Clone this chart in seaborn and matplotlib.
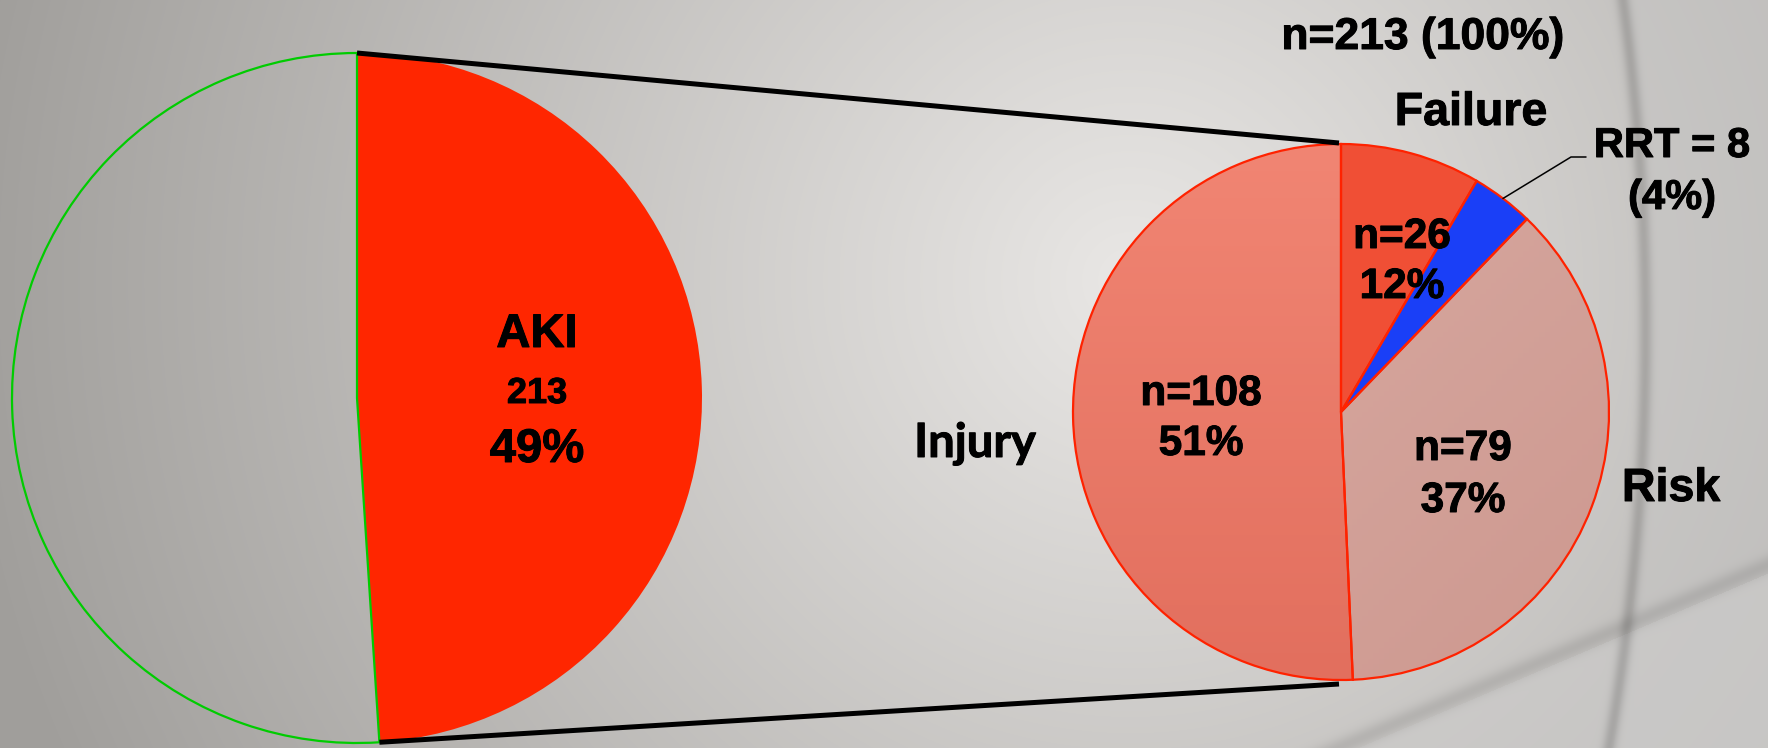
import numpy as np
import matplotlib
matplotlib.use("Agg")
import matplotlib.pyplot as plt
import matplotlib.patheffects as pe_
import seaborn as sns

# ---------------- data ----------------
overall_labels = ["AKI", "No AKI"]
overall_counts = [213, 222]

rifle_labels = ["Failure", "RRT", "Risk", "Injury"]
rifle_counts = [18, 8, 79, 108]          # Failure without RRT, RRT, Risk, Injury
failure_total = 26                       # Failure incl. RRT
aki_total = 213

rifle_colors = ["#F04F35", "#1A3FF7", "#D5A59C", "#EC7F6C"]

# ---------------- style ----------------
sns.set_theme(style="white")
plt.rcParams["font.family"] = ["Liberation Sans", "DejaVu Sans"]
plt.rcParams["font.weight"] = "bold"

W, H = 1768, 748
fig = plt.figure(figsize=(W / 100, H / 100), dpi=100)
ax = fig.add_axes([0, 0, 1, 1])


def P(x, y):
    """pixel (top-left origin) -> data coords"""
    return (x, H - y)


# ---------------- background ----------------
yy, xx = np.mgrid[0:H, 0:W].astype(float)
d = np.hypot(xx - 1130, (yy - 280))
t = np.clip(d / 1180, 0, 1)[..., None]
light = np.array([233, 231, 229]) / 255
dark = np.array([160, 158, 155]) / 255
img = light * (1 - t) + dark * t

arc_c = (-780.0, 329.0)
arc_r = 2429.0
arc_d = np.hypot(xx - arc_c[0], yy - arc_c[1]) - arc_r
right_arc = arc_d > 0
img[right_arc] = img[right_arc] * 0.5 + np.array([198, 197, 196]) / 255 * 0.5

# diagonal edge bottom-right
x0, y0, x1, y1 = 1357.0, 748.0, 1768.0, 573.0
nx, ny = -(y1 - y0), (x1 - x0)
nrm = np.hypot(nx, ny)
sd = ((xx - x0) * nx + (yy - y0) * ny) / nrm   # >0 below line
below = sd > 0
img[below] = img[below] * 0.4 + np.array([205, 204, 203]) / 255 * 0.6

shade = 1 - 0.16 * np.exp(-((arc_d + 4) / 7.0) ** 2)
shade *= 1 - 0.10 * np.exp(-((sd + 8) / 9.0) ** 2)
img = img * shade[..., None]
ax.imshow(img, extent=(0, W, 0, H), origin="upper", zorder=0, aspect="auto",
          interpolation="bilinear")

# ---------------- left pie ----------------
c1 = P(357, 398)
r1 = 345
w1, _ = ax.pie(overall_counts, colors=["#FF2600", "#FFFFFF"], startangle=90,
               counterclock=False, center=c1, radius=r1, frame=True,
               wedgeprops=dict(linewidth=0, zorder=2))
w1[1].set_facecolor("none")
w1[1].set_edgecolor("#00CC00")
w1[1].set_linewidth(1.6)
w1[1].set_zorder(3)

# ---------------- right pie ----------------
c2 = P(1341, 412)
r2 = 268
w2, _ = ax.pie(rifle_counts, colors=rifle_colors, startangle=90,
               counterclock=False, center=c2, radius=r2, frame=True,
               wedgeprops=dict(linewidth=0, zorder=2))

# subtle gradients on Risk and Injury
gy, gx = np.mgrid[0:100, 0:100] / 99.0
for idx, (ca, cb, mode) in {2: ((218, 173, 165), (205, 152, 143), "diag"),
                            3: ((241, 133, 115), (226, 111, 94), "vert")}.items():
    tt = (gx + gy) / 2 if mode == "diag" else gy
    ca = np.array(ca) / 255
    cb = np.array(cb) / 255
    g = ca * (1 - tt[..., None]) + cb * tt[..., None]
    im = ax.imshow(g, extent=(c2[0] - r2, c2[0] + r2, c2[1] - r2, c2[1] + r2),
                   origin="upper", zorder=2.5, aspect="auto")
    im.set_clip_path(w2[idx])

ax.pie(rifle_counts, colors=["none"] * 4, startangle=90, counterclock=False,
       center=c2, radius=r2, frame=True,
       wedgeprops=dict(linewidth=1.6, edgecolor="#FF2200", fill=False, zorder=3))

# ---------------- connector lines ----------------
aki = w1[0]
th_a = np.deg2rad(aki.theta1)
th_b = np.deg2rad(aki.theta2)
pa = (c1[0] + r1 * np.cos(th_b), c1[1] + r1 * np.sin(th_b))
pb = (c1[0] + r1 * np.cos(th_a), c1[1] + r1 * np.sin(th_a))
top_pt, bot_pt = (pa, pb) if pa[1] > pb[1] else (pb, pa)
ax.plot([top_pt[0], c2[0] - 2], [top_pt[1], c2[1] + r2 + 1], color="black",
        lw=3.6, solid_capstyle="butt", zorder=4)
ax.plot([bot_pt[0], c2[0] - 2], [bot_pt[1], c2[1] - r2 - 4], color="black",
        lw=3.6, solid_capstyle="butt", zorder=4)

# RRT leader line
rrt = w2[1]
mid = np.deg2rad((rrt.theta1 + rrt.theta2) / 2)
pe = (c2[0] + r2 * np.cos(mid), c2[1] + r2 * np.sin(mid))
ax.plot([pe[0], 1571, 1586], [pe[1], H - 157, H - 157], color="black",
        lw=1.1, zorder=4)

# ---------------- texts ----------------
thick = [pe_.withStroke(linewidth=0.7, foreground="black")]


def txt(x, y, s, size, **kw):
    ax.text(*P(x, y), s, ha="center", va="baseline", fontsize=size,
            fontweight="bold", color="black", zorder=5, path_effects=thick, **kw)


grand = sum(overall_counts)
txt(537, 347, overall_labels[0], 34)
txt(537, 403, f"{aki_total}", 26)
txt(537, 462, f"{round(100 * aki_total / grand)}%", 34)

txt(1423, 49, f"n={aki_total} (100%)", 32)
txt(1471, 125, rifle_labels[0], 33.5)
txt(1672, 157, f"RRT = {rifle_counts[1]}", 30)
txt(1672, 209, f"({round(100 * rifle_counts[1] / aki_total)}%)", 30)
txt(1402, 248, f"n={failure_total}", 30.5)
txt(1402, 298, f"{round(100 * failure_total / aki_total)}%", 30.5)
txt(1201, 405, f"n={rifle_counts[3]}", 30.5)
txt(1201, 455, f"{round(100 * rifle_counts[3] / aki_total)}%", 30.5)
txt(1463, 460, f"n={rifle_counts[2]}", 30.5)
txt(1463, 512, f"{round(100 * rifle_counts[2] / aki_total)}%", 30.5)
txt(1671, 501, rifle_labels[2], 33.5)
txt(975, 457, rifle_labels[3], 34, family=["Lato", "DejaVu Sans"])

ax.set_xlim(0, W)
ax.set_ylim(0, H)
ax.set_aspect("auto")
ax.axis("off")
fig.savefig("out.png", dpi=100)
